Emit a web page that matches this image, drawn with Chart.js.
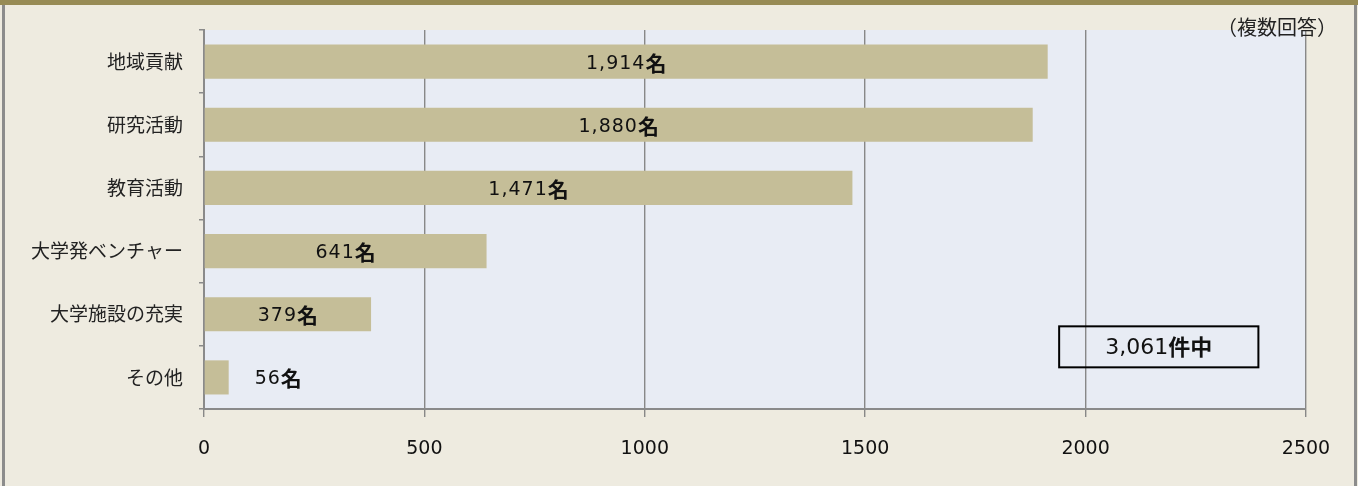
<!DOCTYPE html>
<html>
<head>
<meta charset="utf-8">
<script src="https://cdn.jsdelivr.net/npm/chart.js@4/dist/chart.umd.min.js"></script>
<style>
  body { margin: 0; background: #eeebe0; width: 1358px; height: 486px; overflow: hidden; position: relative; }
  .bandeau { position: absolute; left: 0; top: 0; width: 1358px; height: 5px; background: #978b55; }
  .bordG { position: absolute; left: 2px; top: 5px; width: 3px; height: 481px; background: #8c8c8c; }
  .bordD { position: absolute; left: 1354px; top: 5px; width: 3px; height: 481px; background: #8c8c8c; }
  #graph { position: absolute; left: 0; top: 0; }
</style>
</head>
<body>
<div class="bandeau"></div>
<div class="bordG"></div>
<div class="bordD"></div>
<canvas id="graph" width="1358" height="486"></canvas>
<script>
const categories = ['地域貢献', '研究活動', '教育活動', '大学発ベンチャー', '大学施設の充実', 'その他'];
const valeurs = [1914, 1880, 1471, 641, 379, 56];
const unite = '名';
const totalTexte = '3,061';
const totalUnite = '件中';
const note = '（複数回答）';

// fond de la zone de tracé
const fondPlot = {
    id: 'fondPlot',
    beforeDraw(chart) {
        let a = chart.chartArea;
        let ctx = chart.ctx;
        ctx.save();
        ctx.fillStyle = '#e8ecf4';
        ctx.fillRect(a.left, a.top, a.right - a.left, a.bottom - a.top);
        ctx.restore();
    }
};

// étiquettes "1,914名" etc + encadré + note
const etiquettes = {
    id: 'etiquettes',
    afterDatasetsDraw(chart) {
        let ctx = chart.ctx;
        let meta = chart.getDatasetMeta(0);
        let fontNum = '19px "DejaVu Sans"';
        let fontUnite = 'bold 21px "Noto Sans CJK JP"';
        ctx.save();
        ctx.fillStyle = '#111';
        ctx.textBaseline = 'middle';
        ctx.textAlign = 'left';
        meta.data.forEach((bar, i) => {
            let txt = valeurs[i].toLocaleString('en-US');
            ctx.font = fontNum;
            ctx.letterSpacing = '1px';
            let w1 = ctx.measureText(txt).width;
            ctx.letterSpacing = '0px';
            ctx.font = fontUnite;
            let w2 = ctx.measureText(unite).width;
            let largeur = w1 + w2;
            let debut = bar.base;
            let fin = bar.x;
            let x;
            if (fin - debut > largeur + 20) {
                x = (debut + fin) / 2 - largeur / 2;
            } else {
                x = fin + 26;
            }
            ctx.font = fontNum;
            ctx.letterSpacing = '1px';
            ctx.fillText(txt, x, bar.y + 2);
            ctx.letterSpacing = '0px';
            ctx.font = fontUnite;
            ctx.fillText(unite, x + w1, bar.y + 1);
        });

        // encadré du total
        let xs = chart.scales.x;
        let ys = chart.scales.y;
        let bx1 = xs.getPixelForValue(1940);
        let bx2 = xs.getPixelForValue(2392);
        let cy = (ys.getPixelForValue(4) + ys.getPixelForValue(5)) / 2 + 1;
        ctx.lineWidth = 2;
        ctx.strokeStyle = '#000';
        ctx.strokeRect(bx1, cy - 20.5, bx2 - bx1, 41);
        ctx.font = '22px "DejaVu Sans"';
        let t1 = ctx.measureText(totalTexte).width;
        ctx.font = 'bold 22px "Noto Sans CJK JP"';
        let t2 = ctx.measureText(totalUnite).width;
        let tx = (bx1 + bx2) / 2 - (t1 + t2) / 2;
        ctx.fillStyle = '#111';
        ctx.font = '22px "DejaVu Sans"';
        ctx.fillText(totalTexte, tx, cy + 1);
        ctx.font = 'bold 22px "Noto Sans CJK JP"';
        ctx.fillText(totalUnite, tx + t1, cy);

        // note en haut à droite
        ctx.font = '20px "Noto Sans CJK JP"';
        ctx.textAlign = 'right';
        ctx.fillStyle = '#222';
        ctx.fillText(note, chart.chartArea.right + 31, 27);
        ctx.restore();
    }
};

new Chart(document.querySelector('#graph'), {
    type: 'bar',
    data: {
        labels: categories,
        datasets: [{
            data: valeurs,
            backgroundColor: '#c5be98',
            borderWidth: 0,
            barPercentage: 0.54,
            categoryPercentage: 1
        }]
    },
    options: {
        indexAxis: 'y',
        responsive: false,
        animation: false,
        layout: { padding: { top: 30, right: 52, left: 0, bottom: 0 } },
        plugins: {
            legend: { display: false },
            tooltip: { enabled: false }
        },
        scales: {
            x: {
                min: 0,
                max: 2500,
                ticks: {
                    stepSize: 500,
                    color: '#111',
                    font: { family: 'DejaVu Sans', size: 19 },
                    padding: 21,
                    callback: v => String(v)
                },
                grid: {
                    color: '#888888',
                    lineWidth: 1.4,
                    tickLength: 8
                },
                border: { color: '#8a8a8a', width: 2 },
                afterFit: s => { s.height = 77; }
            },
            y: {
                ticks: {
                    color: '#222',
                    font: { family: 'Noto Sans CJK JP', size: 19 },
                    padding: 16
                },
                grid: {
                    drawOnChartArea: false,
                    color: '#8a8a8a',
                    lineWidth: 1.5,
                    tickLength: 5
                },
                border: { color: '#8a8a8a', width: 2 },
                afterFit: s => { s.width = 204; }
            }
        }
    },
    plugins: [fondPlot, etiquettes]
});
</script>
</body>
</html>
